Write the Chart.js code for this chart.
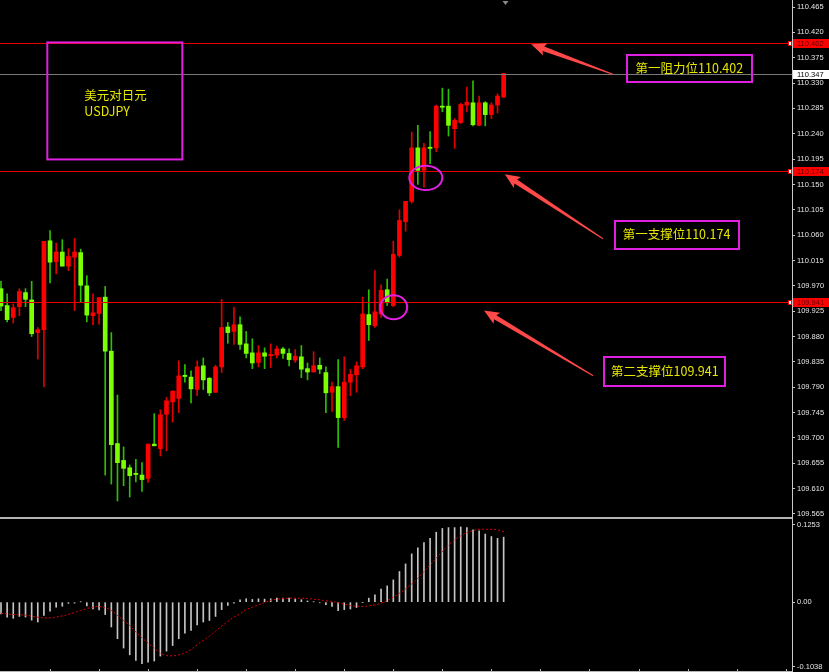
<!DOCTYPE html>
<html>
<head>
<meta charset="utf-8">
<title>USDJPY</title>
<script src="https://cdn.jsdelivr.net/npm/chart.js@4.4.0/dist/chart.umd.min.js"></script>
<style>
  html, body { margin: 0; padding: 0; background: #000; }
  #wrap { position: relative; width: 829px; height: 672px; overflow: hidden; background: #000; }
  #priceCanvas { position: absolute; left: 0; top: 0; }
  #macdCanvas { position: absolute; left: 0; top: 518px; }
</style>
</head>
<body>
<div id="wrap">
  <canvas id="priceCanvas" width="829" height="518"></canvas>
  <canvas id="macdCanvas" width="829" height="154"></canvas>
</div>
<script>
// ---- candle data (USDJPY, one entry per bar) ----
const bars = Array.from({ length: 83 }, (_, i) => i);

const open = [
  109.965, 109.935, 109.914, 109.933, 109.958, 109.945, 109.887, 109.892, 110.050, 110.013,
  110.030, 110.005, 110.021, 110.029, 109.970, 109.917, 109.921, 109.950, 109.854, 109.690,
  109.660, 109.647, 109.637, 109.634, 109.628, 109.689, 109.681, 109.742, 109.764, 109.770,
  109.810, 109.808, 109.786, 109.828, 109.806, 109.781, 109.826, 109.897, 109.889, 109.901,
  109.867, 109.851, 109.834, 109.851, 109.846, 109.847, 109.858, 109.850, 109.838, 109.844,
  109.823, 109.817, 109.829, 109.816, 109.781, 109.791, 109.736, 109.799, 109.812, 109.826,
  109.919, 109.899, 109.920, 109.963, 109.935, 110.024, 110.084, 110.120, 110.215, 110.175,
  110.216, 110.215, 110.289, 110.289, 110.249, 110.260, 110.291, 110.295, 110.255, 110.295,
  110.274, 110.291, 110.305
];
const high = [
  109.978, 109.956, 109.938, 109.965, 109.965, 109.978, 109.896, 110.049, 110.068, 110.046,
  110.052, 110.036, 110.054, 110.035, 109.988, 109.956, 109.949, 109.969, 109.887, 109.776,
  109.684, 109.652, 109.662, 109.656, 109.689, 109.743, 109.750, 109.772, 109.784, 109.837,
  109.830, 109.819, 109.837, 109.842, 109.807, 109.829, 109.946, 109.905, 109.932, 109.915,
  109.889, 109.876, 109.864, 109.860, 109.867, 109.863, 109.861, 109.858, 109.857, 109.864,
  109.833, 109.853, 109.842, 109.826, 109.799, 109.839, 109.844, 109.822, 109.835, 109.950,
  109.963, 109.997, 109.972, 109.982, 110.049, 110.105, 110.120, 110.243, 110.255, 110.223,
  110.244, 110.291, 110.321, 110.319, 110.267, 110.294, 110.323, 110.334, 110.307, 110.297,
  110.295, 110.311, 110.347
];
const low = [
  109.926, 109.906, 109.904, 109.917, 109.933, 109.880, 109.840, 109.791, 109.975, 109.991,
  110.005, 109.997, 109.926, 109.941, 109.906, 109.901, 109.902, 109.634, 109.618, 109.588,
  109.615, 109.595, 109.622, 109.605, 109.621, 109.686, 109.668, 109.677, 109.728, 109.745,
  109.799, 109.762, 109.775, 109.786, 109.775, 109.781, 109.816, 109.868, 109.866, 109.857,
  109.842, 109.823, 109.826, 109.823, 109.825, 109.842, 109.841, 109.828, 109.834, 109.807,
  109.803, 109.817, 109.814, 109.745, 109.747, 109.683, 109.731, 109.775, 109.781, 109.823,
  109.873, 109.896, 109.914, 109.935, 109.933, 110.021, 110.067, 110.117, 110.150, 110.145,
  110.187, 110.208, 110.279, 110.236, 110.214, 110.258, 110.279, 110.254, 110.255, 110.254,
  110.267, 110.277, 110.304
];
const close = [
  109.934, 109.910, 109.931, 109.960, 109.946, 109.885, 109.892, 110.049, 110.012, 110.030,
  110.005, 110.022, 110.030, 109.971, 109.918, 109.922, 109.949, 109.854, 109.688, 109.656,
  109.646, 109.633, 109.635, 109.626, 109.689, 109.686, 109.741, 109.766, 109.783, 109.810,
  109.809, 109.787, 109.826, 109.803, 109.780, 109.826, 109.896, 109.887, 109.901, 109.866,
  109.850, 109.833, 109.851, 109.845, 109.847, 109.858, 109.850, 109.839, 109.845, 109.822,
  109.817, 109.828, 109.822, 109.780, 109.791, 109.736, 109.799, 109.813, 109.828, 109.920,
  109.901, 109.924, 109.962, 109.940, 110.026, 110.086, 110.120, 110.215, 110.175, 110.215,
  110.214, 110.289, 110.287, 110.255, 110.264, 110.292, 110.296, 110.256, 110.295, 110.274,
  110.291, 110.307, 110.347
];

// ---- MACD panel ----
const macdHist = [
  -0.019, -0.024, -0.026, -0.023, -0.024, -0.029, -0.032, -0.0215, -0.0145, -0.008,
  -0.0065, -0.002, -0.0015, 0.0005, -0.006, -0.0107, -0.0124, -0.020, -0.040, -0.059,
  -0.074, -0.085, -0.094, -0.0994, -0.097, -0.095, -0.087, -0.079, -0.070, -0.059,
  -0.050, -0.0457, -0.0365, -0.032, -0.0295, -0.023, -0.012, -0.0053, -0.0016, 0.0039,
  0.0055, 0.0044, 0.0055, 0.005, 0.0055, 0.0065, 0.0065, 0.0065, 0.005, 0.004,
  0.002, 0.0005, -0.001, -0.004, -0.007, -0.0135, -0.012, -0.011, -0.0086, -0.0005,
  0.0065, 0.0118, 0.021, 0.0263, 0.036, 0.0495, 0.0618, 0.078, 0.0876, 0.0962,
  0.103, 0.113, 0.119, 0.1204, 0.1204, 0.1215, 0.1204, 0.1167, 0.115, 0.110,
  0.106, 0.103, 0.105
];
const macdSignal = [
  -0.0177, -0.0188, -0.0199, -0.0204, -0.021, -0.0226, -0.0242, -0.0253, -0.0253, -0.0242,
  -0.022, -0.0199, -0.0167, -0.0134, -0.0102, -0.0081, -0.007, -0.0091, -0.0134, -0.0215,
  -0.0296, -0.0376, -0.0484, -0.0575, -0.0661, -0.0742, -0.0823, -0.086, -0.0866, -0.085,
  -0.0817, -0.0763, -0.0688, -0.0618, -0.0548, -0.0468, -0.0387, -0.0312, -0.0242, -0.0188,
  -0.012, -0.008, -0.0045, -0.0005, 0.003, 0.0048, 0.0059, 0.0065, 0.0065, 0.0065,
  0.0059, 0.0048, 0.0038, 0.0022, 0.0011, -0.0011, -0.0032, -0.0054, -0.0065, -0.007,
  -0.0059, -0.0043, -0.0016, 0.0027, 0.0081, 0.0145, 0.0215, 0.0296, 0.0387, 0.0495,
  0.0602, 0.071, 0.0817, 0.0925, 0.1005, 0.107, 0.1124, 0.1156, 0.1177, 0.1177,
  0.1177, 0.1167, 0.114
];

// ---- axis ticks and key levels ----
const priceTicks = [
  110.465, 110.420, 110.375, 110.330, 110.285, 110.240, 110.195, 110.150, 110.105, 110.060,
  110.015, 109.970, 109.925, 109.880, 109.835, 109.790, 109.745, 109.700, 109.655, 109.610, 109.565
];
const macdTicks = [0.1253, 0, -0.1038];
const resistanceLevels = [110.402];
const supportLevels = [110.174, 109.941];
const levelNames = ['第一阻力位', '第一支撑位', '第二支撑位'];
const pairTitle = ['美元对日元', 'USDJPY'];

// ---- styling ----
const UP = '#ff0000', DOWN = '#7cff00';
const UP_WICK = '#e00000', DOWN_WICK = '#2cc000';
const AXIS = '#c8c8c8', AXIS_TEXT = '#e4e4e4';
const LEVEL = '#e80000';
const NOTE_BORDER = '#e020e0', NOTE_TEXT = '#e6e600', ARROW = '#ff4848';
const X_RANGE = { min: -0.163, max: 129.04 };
const AXIS_WIDTH = 37;
const tickFont = { family: 'Liberation Sans, Arial, sans-serif', size: 7.5 };
const cjkFont = '12.5px "Noto Sans CJK SC", "Noto Sans", sans-serif';

function rightAxis(min, max, ticks, fmt) {
  return {
    position: 'right', min, max,
    afterBuildTicks: s => { s.ticks = ticks.map(v => ({ value: v })); },
    afterFit: s => { s.width = AXIS_WIDTH; s.paddingTop = 0; s.paddingBottom = 0; },
    grid: { drawOnChartArea: false, drawTicks: true, tickLength: 3, color: AXIS },
    border: { display: true, color: AXIS },
    ticks: { autoSkip: false, padding: 2, color: AXIS_TEXT, font: tickFont, callback: fmt }
  };
}

// tapered arrow from tail to tip
function drawArrow(ctx, x1, y1, x2, y2) {
  const dx = x2 - x1, dy = y2 - y1, L = Math.hypot(dx, dy);
  const ux = dx / L, uy = dy / L, nx = -uy, ny = ux;
  const headLen = 13, headW = 6.5, neckW = 2.4, tailW = 0.5;
  const bx = x2 - ux * headLen, by = y2 - uy * headLen;
  const cx = x2 - ux * headLen * 1.15, cy = y2 - uy * headLen * 1.15;
  ctx.beginPath();
  ctx.moveTo(x1 + nx * tailW, y1 + ny * tailW);
  ctx.lineTo(bx + nx * neckW, by + ny * neckW);
  ctx.lineTo(cx + nx * headW, cy + ny * headW);
  ctx.lineTo(x2, y2);
  ctx.lineTo(cx - nx * headW, cy - ny * headW);
  ctx.lineTo(bx - nx * neckW, by - ny * neckW);
  ctx.lineTo(x1 - nx * tailW, y1 - ny * tailW);
  ctx.closePath();
  ctx.fill();
}

function tagBox(ctx, left, y, text, bg, fg) {
  ctx.fillStyle = bg;
  ctx.fillRect(left + 1, Math.round(y) - 4, 36, 9);
  ctx.fillStyle = fg;
  ctx.font = '7.5px "Liberation Sans", Arial, sans-serif';
  ctx.textAlign = 'left';
  ctx.textBaseline = 'middle';
  ctx.fillText(text, left + 5, Math.round(y) + 0.5);
}

// overlays on the price panel: levels, notes, arrows, markers
const priceOverlay = {
  id: 'priceOverlay',
  afterDraw(chart) {
    const { ctx, chartArea: a, scales: { x, y } } = chart;
    const px = i => x.getPixelForValue(i), py = p => y.getPixelForValue(p);
    const last = close[close.length - 1];
    ctx.save();

    // horizontal levels
    const levels = [...resistanceLevels, ...supportLevels];
    ctx.lineWidth = 1;
    ctx.strokeStyle = '#7a7a7a';
    ctx.beginPath();
    ctx.moveTo(a.left, Math.round(py(last)) + 0.5);
    ctx.lineTo(a.right, Math.round(py(last)) + 0.5);
    ctx.stroke();
    ctx.strokeStyle = LEVEL;
    levels.forEach(v => {
      const yy = Math.round(py(v)) + 0.5;
      ctx.beginPath(); ctx.moveTo(a.left, yy); ctx.lineTo(a.right, yy); ctx.stroke();
      ctx.fillStyle = '#ff0000';
      ctx.fillRect(a.right - 4, yy - 2.5, 4, 5);
      ctx.fillStyle = '#ffffff';
      ctx.fillRect(a.right - 3, yy - 1.5, 2, 3);
    });

    // price tags on the axis
    levels.forEach(v => tagBox(ctx, a.right, py(v), v.toFixed(3), '#ff0000', '#5a0000'));
    tagBox(ctx, a.right, py(last), last.toFixed(3), '#ffffff', '#000000');

    // chart shift marker
    ctx.fillStyle = '#8a8a8a';
    const sx = px(bars.length - 0.7);
    ctx.beginPath(); ctx.moveTo(sx - 3, 1); ctx.lineTo(sx + 3, 1); ctx.lineTo(sx, 5); ctx.closePath(); ctx.fill();

    // title box
    ctx.lineWidth = 2;
    ctx.strokeStyle = NOTE_BORDER;
    const tcx = px(18.57), tcy = py(110.2983);
    ctx.strokeRect(tcx - 67.5, tcy - 58.5, 135, 117);
    ctx.fillStyle = NOTE_TEXT;
    ctx.font = cjkFont;
    ctx.textAlign = 'left';
    ctx.textBaseline = 'middle';
    ctx.fillText(pairTitle[0], tcx - 30.5, tcy - 5.5);
    ctx.fillText(pairTitle[1], tcx - 30.5, tcy + 10.5);

    // level notes with arrows
    const notes = [
      { v: resistanceLevels[0], name: levelNames[0], ci: 112.3, cp: 110.356, w: 125, h: 27,
        tail: [99.8, 110.3458], tip: [86.5, 110.399] },
      { v: supportLevels[0], name: levelNames[1], ci: 110.2, cp: 110.0609, w: 124, h: 28,
        tail: [98.2, 110.0536], tip: [82.2, 110.168] },
      { v: supportLevels[1], name: levelNames[2], ci: 108.3, cp: 109.8184, w: 121, h: 29,
        tail: [96.6, 109.8104], tip: [78.8, 109.926] }
    ];
    notes.forEach(n => {
      const cx = px(n.ci), cy = py(n.cp);
      ctx.strokeStyle = NOTE_BORDER;
      ctx.lineWidth = 2;
      ctx.strokeRect(Math.round(cx - n.w / 2), Math.round(cy - n.h / 2), n.w, n.h);
      ctx.fillStyle = NOTE_TEXT;
      ctx.font = cjkFont;
      ctx.textAlign = 'center';
      ctx.textBaseline = 'middle';
      ctx.fillText(n.name + n.v.toFixed(3), cx, cy);
      ctx.fillStyle = ARROW;
      drawArrow(ctx, px(n.tail[0]), py(n.tail[1]), px(n.tip[0]), py(n.tip[1]));
    });

    // rings around the touches of the support levels
    ctx.strokeStyle = NOTE_BORDER;
    ctx.lineWidth = 2;
    [[69.3, 110.1617, 16.5, 12.2], [64.06, 109.932, 13.5, 12]].forEach(([i, p, rx, ry]) => {
      ctx.beginPath();
      ctx.ellipse(px(i), py(p), rx, ry, 0, 0, Math.PI * 2);
      ctx.stroke();
    });

    // panel separator
    ctx.strokeStyle = '#b4b4b4';
    ctx.lineWidth = 1;
    ctx.beginPath(); ctx.moveTo(0, a.bottom - 0.5); ctx.lineTo(a.right, a.bottom - 0.5); ctx.stroke();
    ctx.restore();
  }
};

const macdOverlay = {
  id: 'macdOverlay',
  afterDraw(chart) {
    const { ctx, chartArea: a, scales: { x } } = chart;
    ctx.save();
    ctx.strokeStyle = '#b4b4b4';
    ctx.lineWidth = 1;
    ctx.beginPath();
    ctx.moveTo(0, 0.5); ctx.lineTo(a.right, 0.5);
    ctx.moveTo(0, a.bottom - 0.5); ctx.lineTo(a.right, a.bottom - 0.5);
    for (let i = 8; x.getPixelForValue(i) < a.right; i += 8) {
      const xx = Math.round(x.getPixelForValue(i)) + 0.5;
      ctx.moveTo(xx, a.bottom - 3); ctx.lineTo(xx, a.bottom);
    }
    ctx.stroke();
    ctx.restore();
  }
};

Chart.defaults.font.family = 'Liberation Sans, Arial, sans-serif';

new Chart(document.getElementById('priceCanvas'), {
  type: 'bar',
  data: {
    datasets: [
      {
        label: 'wick',
        data: bars.map(i => ({ x: i, y: [low[i], high[i]] })),
        backgroundColor: bars.map(i => close[i] >= open[i] ? UP_WICK : DOWN_WICK),
        barThickness: 1, grouped: false, order: 2
      },
      {
        label: 'body',
        data: bars.map(i => ({ x: i, y: [open[i], close[i]] })),
        backgroundColor: bars.map(i => close[i] >= open[i] ? UP : DOWN),
        barThickness: 4, minBarLength: 1.2, grouped: false, order: 1
      }
    ]
  },
  options: {
    responsive: false, animation: false, devicePixelRatio: 1,
    layout: { padding: 0 },
    plugins: { legend: { display: false }, tooltip: { enabled: false } },
    scales: {
      x: { type: 'linear', min: X_RANGE.min, max: X_RANGE.max, offset: false, display: false },
      y: rightAxis(109.5578, 110.4775, priceTicks, v => Number(v).toFixed(3))
    }
  },
  plugins: [priceOverlay]
});

new Chart(document.getElementById('macdCanvas'), {
  type: 'bar',
  data: {
    datasets: [
      {
        type: 'line', label: 'signal',
        data: bars.map(i => ({ x: i, y: macdSignal[i] })),
        borderColor: '#e00000', borderWidth: 1, borderDash: [2, 2],
        pointRadius: 0, tension: 0.4, order: 0
      },
      {
        type: 'bar', label: 'macd',
        data: bars.map(i => ({ x: i, y: macdHist[i] })),
        backgroundColor: '#c4c4c4', barThickness: 1, grouped: false, order: 1
      }
    ]
  },
  options: {
    responsive: false, animation: false, devicePixelRatio: 1,
    layout: { padding: 0 },
    plugins: { legend: { display: false }, tooltip: { enabled: false } },
    scales: {
      x: { type: 'linear', min: X_RANGE.min, max: X_RANGE.max, offset: false, display: false },
      y: rightAxis(-0.1127, 0.1359, macdTicks, v => (v === 0 ? '0.00' : Number(v).toFixed(4)))
    }
  },
  plugins: [macdOverlay]
});
</script>
</body>
</html>
